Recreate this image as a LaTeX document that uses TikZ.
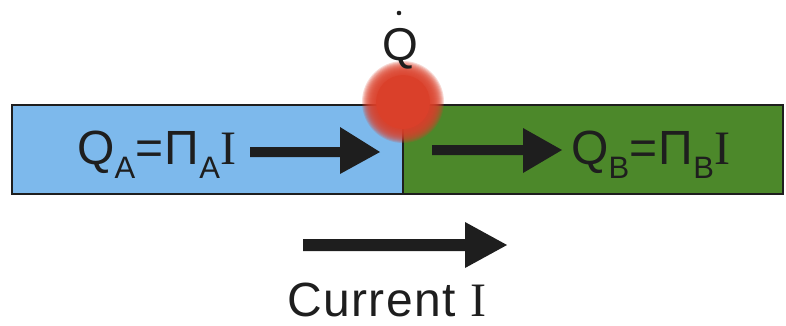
\documentclass[tikz,border=0pt]{standalone}
\usepackage{fontspec}
\setmainfont{Liberation Sans}
\newfontfamily\serifI{Liberation Serif}
\definecolor{barblue}{RGB}{125,185,236}
\definecolor{bargreen}{RGB}{76,136,42}
\definecolor{blobred}{RGB}{218,64,42}
\definecolor{ink}{RGB}{30,30,30}
\newcommand{\lowsub}[1]{\raisebox{-0.3em}{\fontsize{31}{31}\selectfont #1}}
\tikzset{
  bar/.style={draw=ink, line width=1.6pt},
  lbl/.style={inner sep=0pt, text depth=0pt, text=ink, font=\fontsize{48}{48}\selectfont\addfontfeature{LetterSpace=3}},
  bigarrow/.style={fill=ink, draw=none},
  halo/.style={fill=blobred, opacity=0.2}
}
\begin{document}
\begin{tikzpicture}[x=1pt,y=-1pt]
\useasboundingbox (0,0) rectangle (786,325);
% bars
\path[bar, fill=barblue] (12,105) rectangle (403,194);
\path[bar, fill=bargreen] (403,105) rectangle (783,194);
\coordinate (junction) at (403,102);
% red blob (fuzzy)
\foreach \r in {41,40,...,28} {\path[halo] (junction) circle (\r);}
\fill[blobred] (junction) circle (27);
% Qdot
\node[lbl, font=\fontsize{46}{46}\selectfont, anchor=base] (qdot) at (400,60) {Q};
\fill[ink] (399,13) circle (2.3);
% labels
\node[lbl, anchor=base west] (qa) at (77,164) {Q\lowsub{A}=Π\lowsub{A}{\serifI I}};
\node[lbl, anchor=base west] (qb) at (571,164) {Q\lowsub{B}=Π\lowsub{B}{\serifI I}};
% arrows
\fill[bigarrow] (250,147) -- (340,147) -- (340,127) -- (380,152) -- (340,174) -- (340,157) -- (250,157) -- cycle;
\fill[bigarrow] (432,145) -- (523,145) -- (523,128) -- (562,150) -- (523,173) -- (523,155) -- (432,155) -- cycle;
\fill[bigarrow] (303,239) -- (465,239) -- (465,222) -- (507,245) -- (465,268) -- (465,251) -- (303,251) -- cycle;
\node[lbl, anchor=base west] (cur) at (287,316) {Current {\serifI I}};
\end{tikzpicture}
\end{document}
